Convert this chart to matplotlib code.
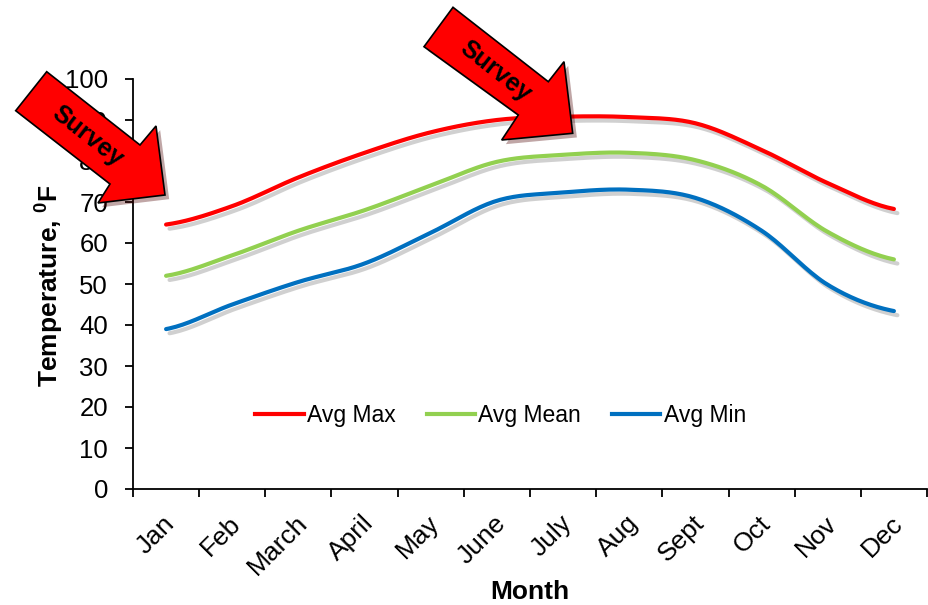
import matplotlib
matplotlib.use('Agg')
import matplotlib.pyplot as plt
import matplotlib.patheffects as pe
from matplotlib.patches import Polygon
from matplotlib.lines import Line2D
from matplotlib.transforms import ScaledTranslation
import numpy as np

plt.rcParams['font.family'] = ['Liberation Sans', 'DejaVu Sans']
plt.rcParams['mathtext.fontset'] = 'custom'
plt.rcParams['mathtext.rm'] = 'Liberation Sans'
plt.rcParams['mathtext.bf'] = 'Liberation Sans:bold'

months = ['Jan', 'Feb', 'March', 'April', 'May', 'June', 'July', 'Aug',
          'Sept', 'Oct', 'Nov', 'Dec']
avg_max = [64.5, 69, 76, 82, 87, 90, 90.8, 90.7, 89.2, 82.7, 74.6, 68.3]
avg_mean = [52, 57, 63, 68, 74, 79.8, 81.5, 82, 80.2, 74, 62.7, 56]
avg_min = [39, 45, 50.5, 55, 62.5, 70.3, 72.3, 73, 71, 63, 49.8, 43.4]
series_names = ['Avg Max', 'Avg Mean', 'Avg Min']
series_colors = ['#FF0000', '#92D050', '#0070C0']


def smooth(y, n=20):
    # catmull-rom curve through the points, like a spreadsheet "smoothed line"
    y = np.asarray(y, float)
    x = np.arange(len(y), dtype=float)
    p = np.concatenate([[y[0]], y, [y[-1]]])
    xs, ys = [], []
    t = np.linspace(0, 1, n, endpoint=False)
    for i in range(len(y) - 1):
        p0, p1, p2, p3 = p[i], p[i + 1], p[i + 2], p[i + 3]
        m1 = (p2 - p0) / 2
        m2 = (p3 - p1) / 2
        h00 = 2 * t**3 - 3 * t**2 + 1
        h10 = t**3 - 2 * t**2 + t
        h01 = -2 * t**3 + 3 * t**2
        h11 = t**3 - t**2
        xs.append(x[i] + t)
        ys.append(h00 * p1 + h10 * m1 + h01 * p2 + h11 * m2)
    xs.append([x[-1]])
    ys.append([y[-1]])
    return np.concatenate(xs), np.concatenate(ys)


fig = plt.figure(figsize=(9.29, 6.05), dpi=100)
ax = fig.add_axes([133 / 929, 116 / 605, 794 / 929, 410 / 605])

shadow = [pe.SimpleLineShadow(offset=(2.5, -3), shadow_color='#666666', alpha=0.3),
          pe.Normal()]
handles = []
for vals, name, col in zip([avg_max, avg_mean, avg_min], series_names, series_colors):
    sx, sy = smooth(vals)
    ax.plot(sx, sy, color=col, lw=3, solid_capstyle='round', path_effects=shadow)
    handles.append(Line2D([], [], color=col, lw=3, label=name))

ax.set_xlim(-0.5, 11.5)
ax.set_ylim(0, 100)
ax.set_yticks(np.arange(0, 101, 10))
ax.set_xticks(np.arange(-0.5, 12, 1))
ax.set_xticklabels([])
ax.set_xticks(np.arange(12), minor=True)
ax.set_xticklabels(months, minor=True, rotation=45, ha='right', va='center',
                   rotation_mode='anchor')
ax.tick_params(axis='x', which='minor', length=0, pad=22, labelsize=19)
ax.tick_params(axis='x', which='major', length=6, width=1.3)
ax.tick_params(axis='y', length=6, width=1.3, labelsize=18.5, pad=12)
for lab in ax.get_xticklabels(minor=True):
    lab.set_transform(lab.get_transform() + ScaledTranslation(0.05, 0, fig.dpi_scale_trans))
for s in ['top', 'right']:
    ax.spines[s].set_visible(False)
for s in ['left', 'bottom']:
    ax.spines[s].set_linewidth(1.3)

ax.set_xlabel('Month', fontsize=19, fontweight='bold', labelpad=0)
ax.set_ylabel(r'Temperature, $^{\mathbf{0}}$F', fontsize=19, fontweight='bold')
ax.yaxis.set_label_coords(-0.086, 0.497)

ax.legend(handles=handles, loc='center', bbox_to_anchor=(0.463, 0.18), ncol=3,
          frameon=False, fontsize=16.5, handlelength=2.1, handletextpad=0.15,
          columnspacing=1.35)

# "Survey" call-out arrows (pixel outlines, top-left origin)
arrows = [
    [(46.7, 71.7), (140, 145), (156, 126), (165, 195), (98, 203), (110, 184), (15.7, 110.7)],
    [(453, 7.3), (548.3, 81.7), (564, 61.7), (572.7, 133.3), (501.7, 140), (518.3, 115), (424, 46.7)],
]
labels_at = [(88, 136), (496, 71)]
W, H = 929, 605
for pts, (tx, ty) in zip(arrows, labels_at):
    fpts = [(x / W, 1 - y / H) for x, y in pts]
    poly = Polygon(fpts, closed=True, transform=fig.transFigure, facecolor='#FF0000',
                   edgecolor='black', lw=1.2, zorder=10,
                   path_effects=[pe.SimplePatchShadow(offset=(3, -3), alpha=0.35), pe.Normal()])
    fig.add_artist(poly)
    fig.text(tx / W, 1 - ty / H, 'Survey', rotation=-38, fontsize=18, fontweight='bold',
             ha='center', va='center', rotation_mode='anchor', zorder=11)

fig.savefig('out.png', dpi=100)
